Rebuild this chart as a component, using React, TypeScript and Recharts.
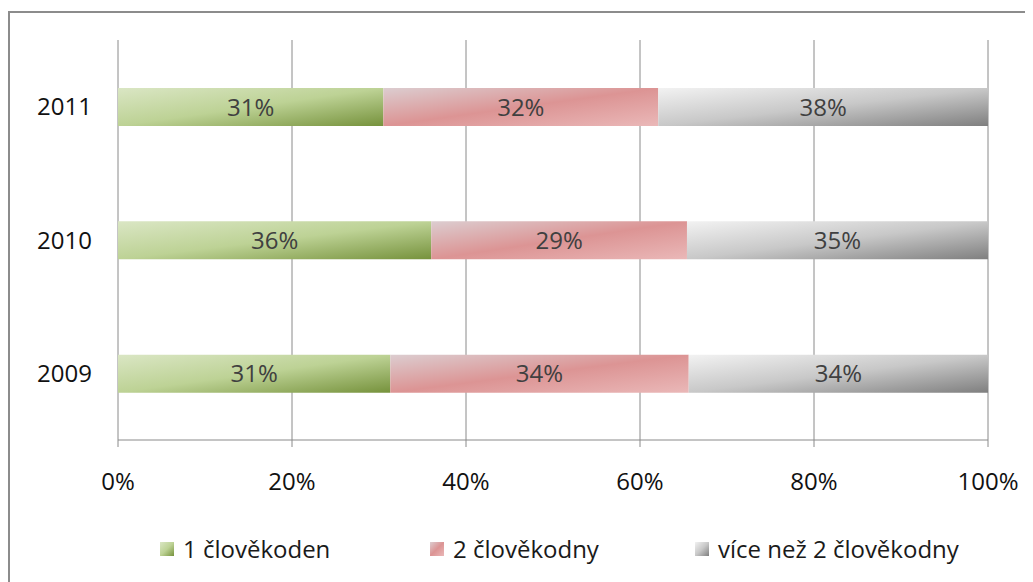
import { BarChart, Bar, XAxis, YAxis, CartesianGrid, Legend, LabelList } from "recharts"

const years = ["2011", "2010", "2009"]
const oneDay = [30.5, 36.0, 31.3]
const twoDays = [31.6, 29.4, 34.3]
const moreDays = [37.9, 34.6, 34.4]
const xTicks = [0, 20, 40, 60, 80, 100]
const bandTicks = [0, 1, 2, 3]

const series = [
  { key: "one", name: "1 člověkoden", grad: "gGreen", css: "linear-gradient(135deg, #dae6c4, #bdd295, #76923c)" },
  { key: "two", name: "2 člověkodny", grad: "gRed", css: "linear-gradient(135deg, #dccdd0, #dc9494, #eab8b8)" },
  { key: "more", name: "více než 2 člověkodny", grad: "gGray", css: "linear-gradient(135deg, #f2f2f2, #c8c8c8, #7f7f7f)" },
]

const legendLeft = [150, 420, 685]

const data = years.map((y, i) => ({
  year: y,
  one: oneDay[i],
  two: twoDays[i],
  more: moreDays[i],
}))

const axisColor = "#8a8a8a"
const fmt = (v: any) => `${Math.round(Number(v))}%`

function LegendBox() {
  return (
    <div style={{ position: "relative", height: 82, width: 1023 }}>
      {series.map((s, i) => (
        <div
          key={s.key}
          style={{
            position: "absolute",
            left: legendLeft[i],
            top: 35,
            height: 28,
            display: "flex",
            alignItems: "center",
            whiteSpace: "nowrap",
          }}
        >
          <div style={{ width: 14, height: 14, background: s.css, marginRight: 9 }} />
          <span style={{ fontSize: 24, color: "#1a1a1a", lineHeight: "28px" }}>{s.name}</span>
        </div>
      ))}
    </div>
  )
}

export default function App() {
  return (
    <div
      style={{
        marginTop: 3,
        borderTop: "2px solid #8c8c8c",
        borderLeft: "2px solid #8c8c8c",
        width: 1023,
        height: 569,
        fontFamily: "'Open Sans', sans-serif",
        background: "#fff",
      }}
    >
      <BarChart
        width={1023}
        height={569}
        data={data}
        layout="vertical"
        margin={{ top: 27, right: 45, left: 48, bottom: 0 }}
      >
        <defs>
          <linearGradient id="gGreen" x1="0" y1="0" x2="1" y2="1">
            <stop offset="0%" stopColor="#dae6c4" />
            <stop offset="50%" stopColor="#bdd295" />
            <stop offset="100%" stopColor="#76923c" />
          </linearGradient>
          <linearGradient id="gRed" x1="0" y1="0" x2="1" y2="1">
            <stop offset="0%" stopColor="#dccdd0" />
            <stop offset="50%" stopColor="#dc9494" />
            <stop offset="100%" stopColor="#eab8b8" />
          </linearGradient>
          <linearGradient id="gGray" x1="0" y1="0" x2="1" y2="1">
            <stop offset="0%" stopColor="#f2f2f2" />
            <stop offset="50%" stopColor="#c8c8c8" />
            <stop offset="100%" stopColor="#7f7f7f" />
          </linearGradient>
        </defs>
        <CartesianGrid horizontal={false} stroke={axisColor} xAxisId="x" yAxisId="num" />
        <XAxis
          xAxisId="x"
          type="number"
          domain={[0, 100]}
          ticks={xTicks}
          tickFormatter={(v) => `${v}%`}
          tickSize={7}
          tickMargin={26}
          height={60}
          axisLine={{ stroke: axisColor }}
          tickLine={{ stroke: axisColor }}
          tick={{ fill: "#111", fontSize: 24 }}
          interval={0}
        />
        <YAxis
          yAxisId="num"
          type="number"
          domain={[0, 3]}
          allowDataOverflow
          ticks={bandTicks}
          width={0}
          tickSize={10}
          tickFormatter={() => ""}
          axisLine={{ stroke: axisColor }}
          tickLine={{ stroke: axisColor }}
          interval={0}
        />
        <YAxis
          yAxisId="cat"
          type="category"
          dataKey="year"
          width={60}
          tickSize={0}
          tickMargin={26}
          axisLine={false}
          tickLine={false}
          tick={{ fill: "#111", fontSize: 24 }}
        />
        <Legend verticalAlign="bottom" wrapperStyle={{ left: 0, width: 1023 }} content={() => <LegendBox />} />
        {series.map((s) => (
          <Bar
            key={s.key}
            dataKey={s.key}
            name={s.name}
            stackId="a"
            xAxisId="x"
            yAxisId="cat"
            barSize={38}
            fill={`url(#${s.grad})`}
            isAnimationActive={false}
          >
            <LabelList dataKey={s.key} position="center" formatter={fmt} fill="#404040" fontSize={24} />
          </Bar>
        ))}
      </BarChart>
    </div>
  )
}
